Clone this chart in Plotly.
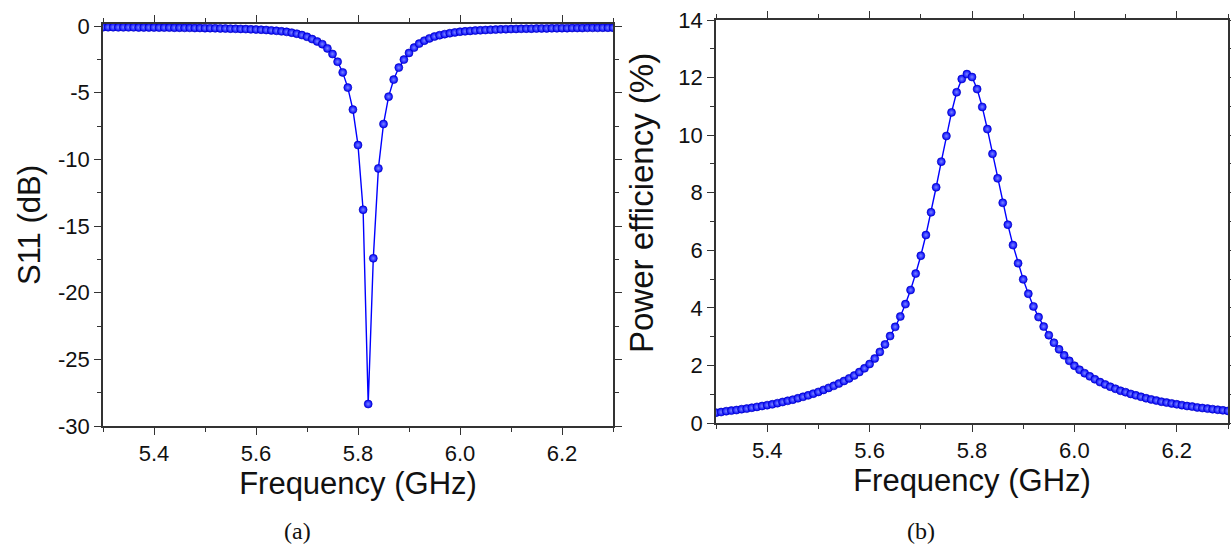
import plotly.graph_objects as go

# Frequency sweep (GHz), 10 MHz steps
freq_ghz = [round(5.30 + 0.01 * i, 2) for i in range(101)]

# Reflection coefficient S11 (dB)
s11_db = [
    -0.09, -0.09, -0.09, -0.10, -0.10, -0.10, -0.10, -0.11, -0.11, -0.11,
    -0.11, -0.12, -0.12, -0.12, -0.13, -0.13, -0.14, -0.14, -0.15, -0.15,
    -0.16, -0.16, -0.17, -0.18, -0.19, -0.20, -0.21, -0.22, -0.23, -0.25,
    -0.26, -0.28, -0.30, -0.33, -0.36, -0.40, -0.44, -0.50, -0.58, -0.68,
    -0.81, -0.98, -1.16, -1.36, -1.68, -2.10, -2.68, -3.48, -4.62, -6.27,
    -8.93, -13.78, -28.35, -17.42, -10.68, -7.35, -5.30, -4.02, -3.12, -2.52,
    -2.02, -1.62, -1.32, -1.10, -0.93, -0.79, -0.69, -0.61, -0.54, -0.48,
    -0.43, -0.40, -0.37, -0.34, -0.32, -0.30, -0.28, -0.27, -0.25, -0.24,
    -0.23, -0.22, -0.21, -0.20, -0.20, -0.19, -0.18, -0.18, -0.17, -0.17,
    -0.16, -0.16, -0.15, -0.15, -0.15, -0.14, -0.14, -0.14, -0.13, -0.13,
    -0.13,
]

# Power efficiency (%)
efficiency_pct = [
    0.36, 0.38, 0.41, 0.43, 0.45, 0.48, 0.50, 0.53, 0.56, 0.59,
    0.62, 0.65, 0.69, 0.73, 0.77, 0.81, 0.86, 0.91, 0.96, 1.02,
    1.08, 1.15, 1.22, 1.29, 1.37, 1.46, 1.55, 1.65, 1.77, 1.90,
    2.05, 2.24, 2.47, 2.73, 3.02, 3.34, 3.70, 4.13, 4.62, 5.19,
    5.81, 6.53, 7.32, 8.19, 9.08, 9.97, 10.79, 11.49, 11.95, 12.12,
    12.02, 11.60, 10.98, 10.21, 9.35, 8.50, 7.65, 6.89, 6.18, 5.55,
    4.99, 4.49, 4.05, 3.68, 3.35, 3.05, 2.79, 2.56, 2.35, 2.16,
    1.99, 1.85, 1.73, 1.62, 1.52, 1.42, 1.34, 1.26, 1.19, 1.12,
    1.07, 1.01, 0.96, 0.91, 0.86, 0.82, 0.78, 0.74, 0.71, 0.68,
    0.65, 0.62, 0.59, 0.57, 0.54, 0.52, 0.50, 0.48, 0.46, 0.44,
    0.42,
]

x_ticks = [5.4, 5.6, 5.8, 6.0, 6.2]
x_ticktext = ["5.4", "5.6", "5.8", "6.0", "6.2"]
s11_ticks = [0, -5, -10, -15, -20, -25, -30]
s11_ticktext = ["0", "-5", "-10", "-15", "-20", "-25", "-30"]
eff_ticks = [0, 2, 4, 6, 8, 10, 12, 14]
eff_ticktext = ["0", "2", "4", "6", "8", "10", "12", "14"]

W, H = 1231, 550
SANS = "Liberation Sans Narrow, Liberation Sans, Arial"
TICK_FONT = dict(family=SANS, size=22, color="#111")
TITLE_FONT = dict(family=SANS, size=31, color="#111")
CAPTION_FONT = dict(family="Liberation Serif, DejaVu Serif", size=24, color="#111")
AXIS_COLOR = "#333"

marker_style = dict(
    size=8,
    color="#0000ff",
    line=dict(color="#0000b4", width=0.6),
    gradient=dict(type="radial", color="#7a86ff"),
)
line_style = dict(color="#0000ff", width=1.4)

fig = go.Figure()
fig.add_trace(go.Scatter(
    x=freq_ghz, y=s11_db, mode="lines+markers",
    line=line_style, marker=marker_style,
    xaxis="x", yaxis="y", showlegend=False,
))
fig.add_trace(go.Scatter(
    x=freq_ghz, y=efficiency_pct, mode="lines+markers",
    line=line_style, marker=marker_style,
    xaxis="x2", yaxis="y2", showlegend=False,
))


def px_dom_x(a, b):
    return [a / W, b / W]


def px_dom_y(top, bottom):
    return [1 - bottom / H, 1 - top / H]


def axis_base():
    return dict(
        ticks="outside", ticklen=7, tickwidth=1.3, tickcolor=AXIS_COLOR,
        showline=True, linecolor=AXIS_COLOR, linewidth=1.6, mirror="ticks",
        showgrid=False, zeroline=False, tickfont=TICK_FONT, automargin=False,
    )


def minor(vals):
    return dict(tickvals=vals, ticks="outside", ticklen=4,
                tickcolor=AXIS_COLOR, tickwidth=1.2)


def x_axis(domain, anchor):
    return dict(
        domain=domain, anchor=anchor, range=[5.3, 6.3],
        tickmode="array", tickvals=x_ticks, ticktext=x_ticktext,
        minor=minor([5.3, 5.5, 5.7, 5.9, 6.1, 6.3]),
        title=dict(text="Frequency (GHz)", font=TITLE_FONT, standoff=6),
        **axis_base(),
    )


fig.update_layout(
    width=W, height=H,
    margin=dict(l=0, r=0, t=0, b=0),
    paper_bgcolor="white", plot_bgcolor="white",
    xaxis=x_axis(px_dom_x(103, 613), "y"),
    xaxis2=x_axis(px_dom_x(716, 1228), "y2"),
    yaxis=dict(
        domain=px_dom_y(24, 426), anchor="x", range=[-30, 0.15],
        tickmode="array", tickvals=s11_ticks, ticktext=s11_ticktext,
        minor=minor([-2.5, -7.5, -12.5, -17.5, -22.5, -27.5]),
        title=dict(text="S11 (dB)", font=TITLE_FONT, standoff=8),
        **axis_base(),
    ),
    yaxis2=dict(
        domain=px_dom_y(20, 423), anchor="x2", range=[0, 14],
        tickmode="array", tickvals=eff_ticks, ticktext=eff_ticktext,
        minor=minor([1, 3, 5, 7, 9, 11, 13]),
        **axis_base(),
    ),
    annotations=[
        dict(text="Power efficiency (%)", x=641 / W, y=1 - 203 / H,
             xref="paper", yref="paper", textangle=-90, showarrow=False,
             xanchor="center", yanchor="middle",
             font=dict(family=SANS, size=33, color="#111")),
        dict(text="(a)", x=297 / W, y=1 - 531 / H, xref="paper", yref="paper",
             xanchor="center", yanchor="middle", showarrow=False, font=CAPTION_FONT),
        dict(text="(b)", x=921 / W, y=1 - 531 / H, xref="paper", yref="paper",
             xanchor="center", yanchor="middle", showarrow=False, font=CAPTION_FONT),
    ],
)

fig.write_html("out.html")
